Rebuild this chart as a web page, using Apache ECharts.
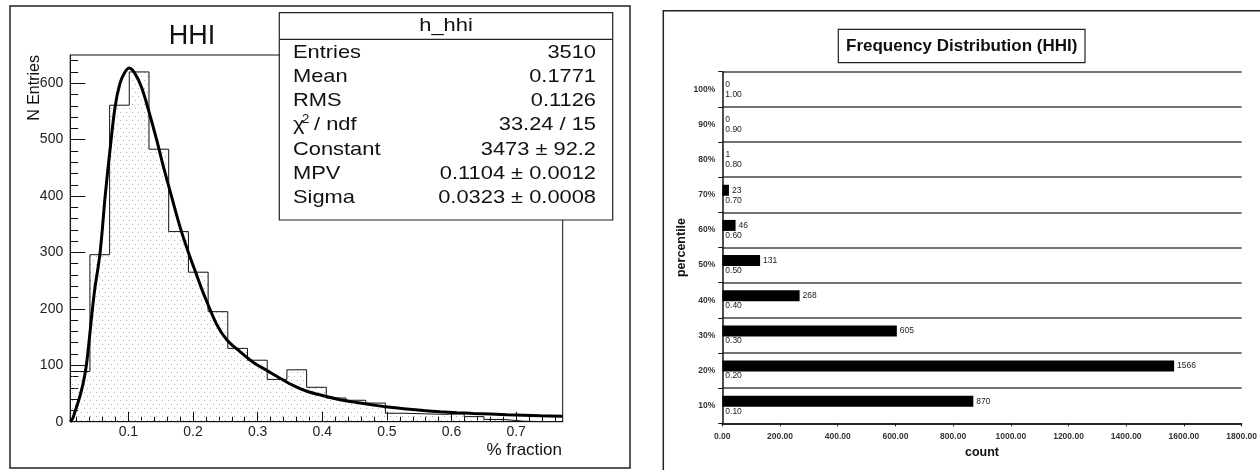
<!DOCTYPE html>
<html><head><meta charset="utf-8">
<script src="https://cdn.jsdelivr.net/npm/echarts@6/dist/echarts.min.js"></script>
<style>html,body{margin:0;padding:0;background:#fff}#c{width:1260px;height:470px}</style>
</head><body><div id="c"></div>
<script>
// ---------- Left panel: HHI histogram with Landau fit ----------
const binEdges = [0.0100, 0.0405, 0.0710, 0.1014, 0.1319, 0.1624, 0.1929, 0.2234, 0.2538, 0.2843,
  0.3148, 0.3453, 0.3758, 0.4062, 0.4367, 0.4672, 0.4977, 0.5282, 0.5586, 0.5891,
  0.6196, 0.6501, 0.6806, 0.7110, 0.7415, 0.7720];
const binCounts = [89, 296, 561, 620, 483, 337, 265, 195, 130, 109, 75, 92, 61, 42, 38, 33,
  15, 14, 13, 14, 9, 4, 1, 0, 0];
const fitX = [0.010, 0.014, 0.0174, 0.021, 0.0252, 0.030, 0.0345, 0.039, 0.043, 0.048, 0.052, 0.056,
  0.060, 0.064, 0.0716, 0.0794, 0.0871, 0.0948, 0.1015, 0.1103, 0.1207, 0.131, 0.1439, 0.1542,
  0.1671, 0.180, 0.1929, 0.205, 0.216, 0.2368, 0.2525, 0.2728, 0.2934, 0.3142, 0.3348, 0.3554,
  0.3761, 0.4018, 0.4277, 0.4535, 0.4792, 0.505, 0.5309, 0.5567, 0.5825, 0.6083, 0.634, 0.6857,
  0.7372, 0.772];
const fitY = [0, 6, 18, 30, 46, 68, 96, 140, 185, 235, 265, 297,
  345, 399, 482, 558, 600, 620, 627, 617, 592, 553, 499, 452,
  398, 345, 300, 262, 228, 172, 145, 124, 105, 91, 77, 64,
  54, 46, 39, 34, 29.6, 25.5, 22.5, 19.8, 17.6, 16, 14.6, 12.4,
  10.6, 9.8];
const histXTicks = [0.1, 0.2, 0.3, 0.4, 0.5, 0.6, 0.7];
const histXMinor = [0.02, 0.04, 0.06, 0.08, 0.12, 0.14, 0.16, 0.18, 0.22, 0.24, 0.26, 0.28,
  0.32, 0.34, 0.36, 0.38, 0.42, 0.44, 0.46, 0.48, 0.52, 0.54, 0.56, 0.58, 0.62, 0.64, 0.66, 0.68,
  0.72, 0.74, 0.76];
const histYTicks = [0, 100, 200, 300, 400, 500, 600];
const histYMinor = [20, 40, 60, 80, 120, 140, 160, 180, 220, 240, 260, 280, 320, 340, 360, 380,
  420, 440, 460, 480, 520, 540, 560, 580, 620, 640];
const statsTitle = 'h_hhi';
const statsNames = ['Entries', 'Mean', 'RMS', 'χ2 / ndf', 'Constant', 'MPV', 'Sigma'];
const statsValues = ['3510', '0.1771', '0.1126', '33.24 / 15', '3473 ± 92.2', '0.1104 ± 0.0012', '0.0323 ± 0.0008'];

// ---------- Right panel: frequency distribution ----------
const pctCategories = ['10%', '20%', '30%', '40%', '50%', '60%', '70%', '80%', '90%', '100%'];
const pctCounts = [870, 1566, 605, 268, 131, 46, 23, 1, 0, 0];
const pctBinLabels = ['0.10', '0.20', '0.30', '0.40', '0.50', '0.60', '0.70', '0.80', '0.90', '1.00'];
const pctPlaceholder = [0, 0, 0, 0, 0, 0, 0, 0, 0, 0];

const chart = echarts.init(document.getElementById('c'), null, {renderer: 'canvas'});

function dotPattern() {
  const c = document.createElement('canvas');
  c.width = 6; c.height = 8;
  const g = c.getContext('2d');
  g.fillStyle = 'rgba(175,120,120,0.7)';
  g.fillRect(0, 0, 1, 1);
  g.fillRect(3, 4, 1, 1);
  return c;
}

const histData = binEdges.map((e, i) => [e, binCounts[Math.min(i, binCounts.length - 1)]]);
const fitData = fitX.map((x, i) => [x, fitY[i]]);

const FONT = 'Liberation Sans, Arial, sans-serif';
const rowY = [52.3, 76.6, 100.9, 125.2, 149.5, 173.8, 198.1];
const statsEls = [];
statsNames.forEach((n, i) => {
  if (i === 3) {
    statsEls.push({type: 'text', x: 293, y: rowY[i], scaleX: 1.15, z: 102,
      style: {text: 'χ', font: '19px ' + FONT, fill: '#111', align: 'left', verticalAlign: 'middle'}});
    statsEls.push({type: 'text', x: 302, y: rowY[i] - 6, scaleX: 1.1, z: 102,
      style: {text: '2', font: '12px ' + FONT, fill: '#111', align: 'left', verticalAlign: 'middle'}});
    statsEls.push({type: 'text', x: 314, y: rowY[i], scaleX: 1.15, z: 102,
      style: {text: '/ ndf', font: '19px ' + FONT, fill: '#111', align: 'left', verticalAlign: 'middle'}});
  } else {
    statsEls.push({type: 'text', x: 293, y: rowY[i], scaleX: 1.15, z: 102,
      style: {text: n, font: '19px ' + FONT, fill: '#111', align: 'left', verticalAlign: 'middle'}});
  }
  statsEls.push({type: 'text', x: 596, y: rowY[i], scaleX: 1.15, z: 102,
    style: {text: statsValues[i], font: '19px ' + FONT, fill: '#111', align: 'right', verticalAlign: 'middle'}});
});

const option = {
  animation: false,
  backgroundColor: '#fff',
  grid: [
    {left: 70.2, top: 55, width: 492.5, height: 366.7, show: true, borderColor: '#111', borderWidth: 1},
    {left: 722.3, top: 71.7, width: 520.4, height: 351.6}
  ],
  xAxis: [
    {gridIndex: 0, type: 'value', position: 'bottom', min: 0.01, max: 0.772,
      axisLine: {show: true, lineStyle: {color: '#111', width: 1}},
      axisTick: {show: true, inside: true, length: 10, customValues: histXTicks, lineStyle: {color: '#111', width: 1}},
      axisLabel: {customValues: histXTicks, formatter: v => v.toFixed(1), fontSize: 14, color: '#222', margin: 3, fontFamily: FONT},
      splitLine: {show: false}},
    {gridIndex: 0, type: 'value', position: 'bottom', min: 0.01, max: 0.772,
      axisLine: {show: false},
      axisTick: {show: true, inside: true, length: 5, customValues: histXMinor, lineStyle: {color: '#111', width: 1}},
      axisLabel: {show: false}, splitLine: {show: false}},
    {gridIndex: 1, type: 'value', position: 'bottom', min: 0, max: 1800, interval: 200,
      axisLine: {show: true, lineStyle: {color: '#111', width: 1.5}},
      axisTick: {show: true, length: 3, lineStyle: {color: '#111', width: 1}},
      axisLabel: {formatter: v => v.toFixed(2), fontSize: 8.5, fontWeight: 'bold', color: '#333', margin: 9, fontFamily: FONT},
      splitLine: {show: false},
      name: 'count', nameLocation: 'middle', nameGap: 22,
      nameTextStyle: {fontSize: 12.5, fontWeight: 'bold', color: '#111', fontFamily: FONT}}
  ],
  yAxis: [
    {gridIndex: 0, type: 'value', position: 'left', min: 0, max: 650,
      axisLine: {show: true, lineStyle: {color: '#111', width: 1}},
      axisTick: {show: true, inside: true, length: 15, customValues: histYTicks, lineStyle: {color: '#111', width: 1}},
      axisLabel: {customValues: histYTicks, fontSize: 14, color: '#222', margin: 7, fontFamily: FONT},
      splitLine: {show: false}},
    {gridIndex: 0, type: 'value', position: 'left', min: 0, max: 650,
      axisLine: {show: false},
      axisTick: {show: true, inside: true, length: 8, customValues: histYMinor, lineStyle: {color: '#111', width: 1}},
      axisLabel: {show: false}, splitLine: {show: false}},
    {gridIndex: 1, type: 'category', position: 'left', data: pctCategories,
      axisLine: {show: true, lineStyle: {color: '#111', width: 1.5}},
      axisTick: {show: true, length: 4, lineStyle: {color: '#111', width: 1}},
      axisLabel: {fontSize: 8.5, fontWeight: 'bold', color: '#333', margin: 7, fontFamily: FONT},
      splitLine: {show: true, lineStyle: {color: '#444', width: 1.5}},
      name: 'percentile', nameLocation: 'middle', nameGap: 34,
      nameTextStyle: {fontSize: 12.5, fontWeight: 'bold', color: '#111', fontFamily: FONT}}
  ],
  series: [
    {type: 'line', name: 'h_hhi', xAxisIndex: 0, yAxisIndex: 0, step: 'end', data: histData,
      showSymbol: false, symbol: 'none', z: 2,
      lineStyle: {color: '#111', width: 1},
      areaStyle: {color: {image: dotPattern(), repeat: 'repeat'}, opacity: 1}},
    {type: 'line', name: 'landau', xAxisIndex: 0, yAxisIndex: 0, data: fitData, smooth: 0.3,
      showSymbol: false, symbol: 'none', z: 3,
      lineStyle: {color: '#000', width: 3}},
    {type: 'bar', name: 'count', xAxisIndex: 2, yAxisIndex: 2, data: pctCounts,
      barWidth: 11, barGap: '0%', itemStyle: {color: '#000'},
      label: {show: true, position: 'right', distance: 3, fontSize: 8.5, color: '#222', fontFamily: FONT}},
    {type: 'bar', name: 'bin', xAxisIndex: 2, yAxisIndex: 2, data: pctPlaceholder,
      barWidth: 9, barGap: '0%', itemStyle: {color: 'transparent'},
      label: {show: true, position: 'right', distance: 3, fontSize: 8.5, color: '#222', fontFamily: FONT,
        formatter: p => pctBinLabels[p.dataIndex]}}
  ],
  graphic: {elements: [
    {type: 'rect', z: 90, shape: {x: 10, y: 6, width: 620, height: 462}, style: {fill: 'none', stroke: '#222', lineWidth: 1.5}},
    {type: 'rect', z: 90, shape: {x: 663.3, y: 10.7, width: 640, height: 480}, style: {fill: 'none', stroke: '#222', lineWidth: 1.5}},
    {type: 'text', z: 95, x: 192, y: 36.5, style: {text: 'HHI', font: '27px ' + FONT, fill: '#111', align: 'center', verticalAlign: 'middle'}},
    {type: 'text', z: 95, x: 35, y: 55, rotation: Math.PI / 2, style: {text: 'N Entries', font: '16px ' + FONT, fill: '#111', align: 'right', verticalAlign: 'middle'}},
    {type: 'text', z: 95, x: 562, y: 450, style: {text: '% fraction', font: '17px ' + FONT, fill: '#111', align: 'right', verticalAlign: 'middle'}},
    {type: 'rect', z: 100, shape: {x: 279.3, y: 12.7, width: 333.4, height: 207.3}, style: {fill: '#fff', stroke: '#222', lineWidth: 1.2}},
    {type: 'line', z: 101, shape: {x1: 279.3, y1: 39.3, x2: 612.7, y2: 39.3}, style: {stroke: '#222', lineWidth: 1.2}},
    {type: 'text', z: 102, x: 446, y: 26, scaleX: 1.15, style: {text: statsTitle, font: '19px ' + FONT, fill: '#111', align: 'center', verticalAlign: 'middle'}},
    ...statsEls,
    {type: 'rect', z: 100, shape: {x: 838.3, y: 29.3, width: 246.7, height: 33.4}, style: {fill: '#fff', stroke: '#222', lineWidth: 1.2}},
    {type: 'text', z: 102, x: 961.7, y: 46, style: {text: 'Frequency Distribution (HHI)', font: 'bold 17px ' + FONT, fill: '#111', align: 'center', verticalAlign: 'middle'}}
  ]}
};
chart.setOption(option);
</script>
</body></html>
